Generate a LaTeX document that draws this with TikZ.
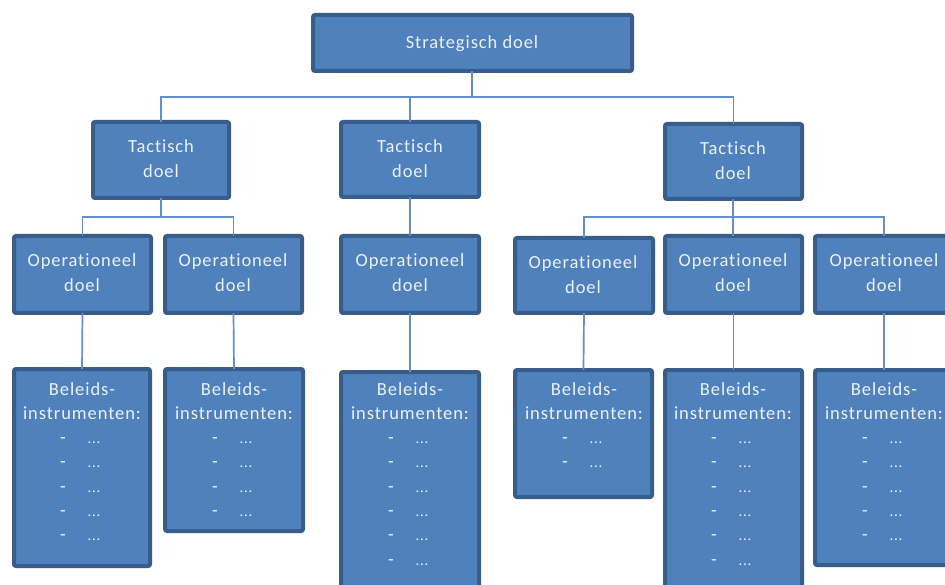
\documentclass[tikz,border=0pt]{standalone}
\usepackage{fontspec}
\setmainfont{Carlito}[LetterSpace=5,Ligatures={NoCommon,NoRequired,NoContextual}]
\definecolor{boxfill}{RGB}{79,129,189}
\definecolor{boxline}{RGB}{56,93,138}
\definecolor{conn}{RGB}{100,143,200}
\definecolor{txt}{RGB}{236,241,249}
\tikzset{
  box/.style={draw=boxline, fill=boxfill, line width=4pt, rounded corners=2pt, inner sep=0pt, outer sep=0pt},
  lbl/.style={text=txt, font=\fontsize{18.5}{22}\selectfont, anchor=base, inner sep=0pt},
  connector/.style={draw=conn, line width=1.7pt},
}
% \mkbox{name}{x1}{y1}{x2}{y2}
\newcommand{\mkbox}[5]{%
  \node[box, minimum width={#4-#2-4}, minimum height={#5-#3-4}] (#1) at ({(#2+#4)/2},{(#3+#5)/2}) {};}
\begin{document}
\begin{tikzpicture}[x=1pt,y=-1pt]
\clip (0,0) rectangle (945,585);
\fill[white] (0,0) rectangle (945,585);
% boxes
\mkbox{S}{311}{13}{634}{73}
\mkbox{T1}{91}{120}{231}{200}
\mkbox{T2}{339}{120}{481}{199}
\mkbox{T3}{663}{122}{804}{201}
\mkbox{O1}{12}{234}{153}{315}
\mkbox{O2}{163}{234}{304}{315}
\mkbox{O3}{339}{234}{481}{315}
\mkbox{O4}{513}{236}{655}{315}
\mkbox{O5}{663}{234}{804}{315}
\mkbox{O6}{813}{234}{955}{315}
\mkbox{B1}{12}{367}{152}{568}
\mkbox{B2}{163}{367}{305}{533}
\mkbox{B3}{339}{370}{481}{600}
\mkbox{B4}{513}{368}{654}{499}
\mkbox{B5}{663}{368}{804}{600}
\mkbox{B6}{813}{368}{955}{567}
% connectors
\coordinate (sj) at (472,97);
\coordinate (t1j) at (161,217);
\coordinate (t3j) at (733,217);
\draw[connector] (S.south -| sj) -- (sj);
\draw[connector] (sj) -| (T1.north);
\draw[connector] (sj) -| (T2.north);
\draw[connector] (sj) -| (T3.north);
\draw[connector] (T1.south -| t1j) -- (t1j);
\draw[connector] (t1j) -| (O1.north);
\draw[connector] (t1j) -| (O2.north);
\draw[connector] (T2.south) -- (O3.north);
\draw[connector] (T3.south -| t3j) -- (t3j);
\draw[connector] (t3j) -| (O4.north);
\draw[connector] (t3j) -- (O5.north -| t3j);
\draw[connector] (t3j) -| (O6.north);
\foreach \o/\b in {O1/B1,O2/B2,O3/B3,O4/B4,O5/B5,O6/B6}
  \draw[connector] (\o.south) -- (\b.north);
% texts
\node[lbl] (St) at (472,49) {Strategisch doel};
\foreach \t/\x/\y in {T1/161/153,T2/410/153,T3/733/155}{
  \node[lbl] (\t a) at (\x,\y) {Tactisch};
  \node[lbl] (\t b) at (\x,\y+24.5) {doel};
}
\foreach \o/\x/\y in {O1/82/267,O2/233/267,O3/410/267,O4/583/269,O5/733/267,O6/884/267}{
  \node[lbl] (\o a) at (\x,\y) {Operationeel};
  \node[lbl] (\o b) at (\x,\y+24.5) {doel};
}
\foreach \b/\x/\n in {B1/82/5,B2/234/4,B3/410/6,B4/584/2,B5/733/6,B6/884/5}{
  \node[lbl] (\b a) at (\x,395) {Beleids-};
  \node[lbl] (\b b) at (\x,419.3) {instrumenten:};
  \foreach \k in {1,...,\n}{
    \node[lbl] (\b d\k) at (\x-19,419.3+24.3*\k) {-};
    \node[lbl, font=\fontsize{15}{17}\selectfont] (\b e\k) at (\x+12,419.3+24.3*\k) {...};
  }
}
\end{tikzpicture}
\end{document}
